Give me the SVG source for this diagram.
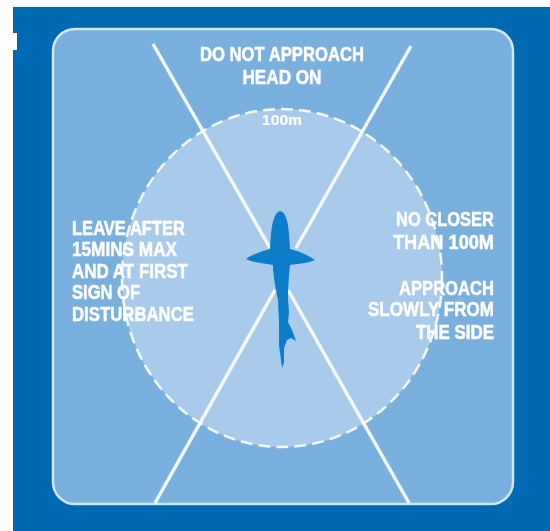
<svg xmlns="http://www.w3.org/2000/svg" width="550" height="531" viewBox="0 0 550 531">
<style>
text{font-family:"Liberation Sans",Arial,sans-serif;font-weight:700;fill:#fff;font-size:20px;stroke:#fff;stroke-width:.5}
.c{stroke:#fff;stroke-width:3.5;fill:none;stroke-opacity:.9}
</style>
<defs><filter id="soft" x="0" y="0" width="100%" height="100%"><feGaussianBlur stdDeviation="0.55"/></filter></defs>
<rect width="550" height="531" fill="#fff"/>
<g filter="url(#soft)">
<rect x="13" y="7" width="537" height="524" fill="#0069b4"/>
<rect x="13" y="33" width="4" height="17" fill="#fff"/>
<g id="panel"><rect x="53" y="29" width="460" height="475" rx="22" fill="#79b0de" stroke="#d4e6f6" stroke-width="2.5"/></g>
<g id="zone"><ellipse cx="282" cy="278" rx="160" ry="169" fill="#a9cbeb" stroke="#fff" stroke-opacity=".9" stroke-width="2.5" stroke-dasharray="12 6"/></g>
<g id="connectors">
<line class="c" x1="153" y1="44" x2="270" y2="248"/>
<line class="c" x1="411" y1="46" x2="296" y2="248"/>
<line class="c" x1="275" y1="290" x2="155" y2="503"/>
<line class="c" x1="288" y1="290" x2="409" y2="503"/>
</g>
<g id="shark"><path fill="#0a7cc9" d="M280 211C275 212 272 222 271 234L270 249C262 251 251 255 246 259C251 262 262 263 273 265C273 275 275 285 278 300L279 323L279 345L282 368L284 362L284 348L287 340L291 338L296 341L292 330L288 322L289 312L288 300C288 285 289 275 290 265C298 264 308 263 315 260C308 255 298 251 290 249L289 234C288 222 286 212 280 211Z"/></g>
<g id="label-top"><text x="282" y="61" text-anchor="middle" textLength="164" lengthAdjust="spacingAndGlyphs">DO NOT APPROACH</text><text x="282" y="84" text-anchor="middle" textLength="79" lengthAdjust="spacingAndGlyphs">HEAD ON</text></g>
<g id="label-100m"><text x="282" y="125" text-anchor="middle" style="font-size:14px;stroke-width:.2" textLength="40" lengthAdjust="spacingAndGlyphs">100m</text></g>
<g id="label-left">
<text x="72" y="235" textLength="113" lengthAdjust="spacingAndGlyphs">LEAVE AFTER</text>
<text x="72" y="256" textLength="105" lengthAdjust="spacingAndGlyphs">15MINS MAX</text>
<text x="72" y="278" textLength="116" lengthAdjust="spacingAndGlyphs">AND AT FIRST</text>
<text x="72" y="299" textLength="68" lengthAdjust="spacingAndGlyphs">SIGN OF</text>
<text x="72" y="321" textLength="122" lengthAdjust="spacingAndGlyphs">DISTURBANCE</text>
</g>
<g id="label-right">
<text x="494" y="226" text-anchor="end" textLength="98" lengthAdjust="spacingAndGlyphs">NO CLOSER</text>
<text x="494" y="249" text-anchor="end" textLength="101" lengthAdjust="spacingAndGlyphs">THAN 100M</text>
<text x="494" y="295" text-anchor="end" textLength="95" lengthAdjust="spacingAndGlyphs">APPROACH</text>
<text x="494" y="316" text-anchor="end" textLength="126" lengthAdjust="spacingAndGlyphs">SLOWLY FROM</text>
<text x="494" y="339" text-anchor="end" textLength="78" lengthAdjust="spacingAndGlyphs">THE SIDE</text>
</g>
</g>
</svg>
